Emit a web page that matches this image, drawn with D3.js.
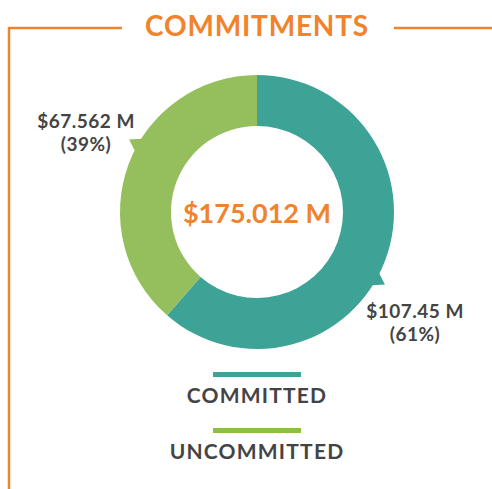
<!DOCTYPE html>
<html>
<head>
<meta charset="utf-8">
<script src="https://cdn.jsdelivr.net/npm/d3@7"></script>
<style>
  body { margin: 0; background: #fff; }
  text { font-family: Lato, "Open Sans", sans-serif; }
</style>
</head>
<body>
<div id="chart"></div>
<script>
// chart data
var categories = ["COMMITTED", "UNCOMMITTED"];
var values = [107.45, 67.562];
var valueLabels = ["$107.45 M", "$67.562 M"];
var pctLabels = ["(61%)", "(39%)"];
var totalLabel = "$175.012 M";
var title = "COMMITMENTS";

var colors = ["#3ea397", "#95bf5c"];
var legendColors = ["#3ea397", "#8cbf44"];
var orange = "#f0832c";
var grey = "#444444";

var width = 492, height = 489;
var cx = 257, cy = 212;
var outerR = 137, innerR = 86;

var svg = d3.select("#chart")
    .append("svg")
    .attr("width", width)
    .attr("height", height);

// frame lines and title
svg.append("text")
    .attr("x", cx)
    .attr("y", 36)
    .attr("text-anchor", "middle")
    .attr("fill", orange)
    .attr("font-size", 28)
    .attr("font-weight", 700)
    .attr("letter-spacing", 0.8)
    .text(title);

svg.append("path")
    .attr("d", "M9,489 V28 H122")
    .attr("fill", "none")
    .attr("stroke", orange)
    .attr("stroke-width", 2.5);

svg.append("line")
    .attr("x1", 394).attr("x2", width)
    .attr("y1", 28).attr("y2", 28)
    .attr("stroke", orange)
    .attr("stroke-width", 2.5);

// donut
var pie = d3.pie().sort(null).value(function(d) { return d; });
var arcs = pie(values);
var arc = d3.arc().innerRadius(innerR).outerRadius(outerR);

var g = svg.append("g")
    .attr("transform", "translate(" + cx + "," + cy + ")");

g.selectAll(".slice")
    .data(arcs)
    .enter().append("path")
    .attr("class", "slice")
    .attr("d", arc)
    .attr("fill", function(d, i) { return colors[i]; });

// little callout tails on the outer edge
var tailOffset = 9 * Math.PI / 180;
function polar(a, r) { return [Math.sin(a) * r, -Math.cos(a) * r]; }
g.selectAll(".tail")
    .data(arcs)
    .enter().append("path")
    .attr("class", "tail")
    .attr("fill", function(d, i) { return colors[i]; })
    .attr("d", function(d) {
      var a = (d.startAngle + d.endAngle) / 2 + tailOffset;
      var p1 = polar(a - 0.065, outerR - 3);
      var p2 = polar(a, outerR + 10);
      var p3 = polar(a + 0.065, outerR - 3);
      return "M" + p1 + "L" + p2 + "L" + p3 + "Z";
    });

// centre total
g.append("text")
    .attr("y", 11)
    .attr("text-anchor", "middle")
    .attr("fill", orange)
    .attr("font-size", 27)
    .attr("font-weight", 700)
    .text(totalLabel);

// slice labels
var labelPos = [[415, 318], [86, 128]];
arcs.forEach(function(d, i) {
  var t = svg.append("text")
      .attr("text-anchor", "middle")
      .attr("fill", grey)
      .attr("font-size", 19)
      .attr("font-weight", 700)
      .attr("letter-spacing", 0.5);
  t.append("tspan")
      .attr("x", labelPos[i][0]).attr("y", labelPos[i][1])
      .text(valueLabels[i]);
  t.append("tspan")
      .attr("x", labelPos[i][0]).attr("y", labelPos[i][1] + 23)
      .text(pctLabels[i]);
});

// legend
var legendY = d3.scaleBand()
    .domain(categories)
    .range([372, 484]);

var legend = svg.selectAll(".legend")
    .data(categories)
    .enter().append("g")
    .attr("class", "legend")
    .attr("transform", function(d) { return "translate(" + cx + "," + legendY(d) + ")"; });

legend.append("rect")
    .attr("x", -44)
    .attr("y", 0)
    .attr("width", 88)
    .attr("height", 5)
    .attr("fill", function(d, i) { return legendColors[i]; });

legend.append("text")
    .attr("y", 31)
    .attr("text-anchor", "middle")
    .attr("fill", grey)
    .attr("font-size", 21)
    .attr("font-weight", 700)
    .attr("letter-spacing", 1.2)
    .text(function(d) { return d; });
</script>
</body>
</html>
